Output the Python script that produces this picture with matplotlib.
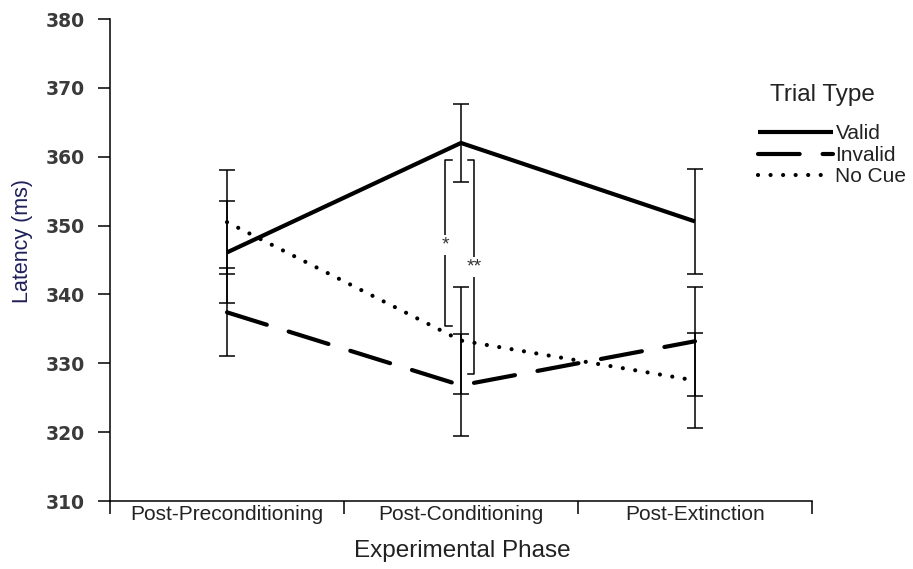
import matplotlib
matplotlib.use("Agg")
import matplotlib.pyplot as plt
from matplotlib.lines import Line2D

phases = ["Post-Preconditioning", "Post-Conditioning", "Post-Extinction"]
valid = [346.1, 362.0, 350.6]
valid_err = [7.4, 5.7, 7.6]
invalid = [337.4, 326.8, 333.2]
invalid_err = [6.4, 7.4, 7.9]
no_cue = [350.5, 333.3, 327.5]
no_cue_err = [7.6, 7.8, 6.9]

y_ticks = [310, 320, 330, 340, 350, 360, 370, 380]

plt.rcParams["font.family"] = ["Liberation Sans", "DejaVu Sans"]

fig = plt.figure(figsize=(9.13, 5.69), dpi=100)
ax = fig.add_axes([110 / 913, 1 - 501 / 569, 702 / 913, 482 / 569])

xs = [i + 0.5 for i in range(len(phases))]
styles = [
    ("Valid", valid, valid_err, dict(linestyle="-", linewidth=3.0, solid_capstyle="butt")),
    ("Invalid", invalid, invalid_err, dict(linestyle=(0, (10, 5.5)), linewidth=3.0, dash_capstyle="round")),
    ("No Cue", no_cue, no_cue_err, dict(linestyle=(0, (0.01, 3.0)), linewidth=3.0, dash_capstyle="round")),
]
handles = []
for name, vals, errs, st in styles:
    ax.errorbar(xs, vals, yerr=errs, fmt="none", ecolor="black", elinewidth=1.1,
                capsize=5.5, capthick=1.1, zorder=2)
    ax.plot(xs, vals, color="black", zorder=3, **st)
    handles.append(Line2D([0], [0], color="black", **st))

# significance brackets at the conditioning phase
def bracket(x, tip, y_top, y_bot, label, y_label):
    ax.plot([tip, x, x, tip], [y_top, y_top, y_bot, y_bot], color="black",
            linewidth=1.1, zorder=4)
    ax.text(x, y_label, label, ha="center", va="center", fontsize=14,
            color="#333333",
            bbox=dict(facecolor="white", edgecolor="none", pad=0.8), zorder=5)

bracket(1.432, 1.462, 359.5, 335.4, "*", 347.2)
bracket(1.556, 1.528, 359.5, 328.4, "**", 344.0)

ax.set_xlim(0, 3)
ax.set_ylim(310, 380)
ax.set_yticks(y_ticks)
ax.set_yticklabels([str(t) for t in y_ticks], fontsize=13.5, color="#3a3a3a",
                   family="DejaVu Sans", fontweight="bold")
ax.set_xticks([0, 1, 2, 3])
ax.set_xticklabels([])
ax.set_xticks(xs, minor=True)
ax.set_xticklabels(phases, minor=True, fontsize=15, color="#222222")
ax.tick_params(axis="x", which="minor", length=0, pad=3)
ax.tick_params(axis="x", which="major", direction="out", length=9, width=1.1)
ax.tick_params(axis="y", direction="out", length=9, width=1.1, pad=9)
for side in ("top", "right"):
    ax.spines[side].set_visible(False)
for side in ("left", "bottom"):
    ax.spines[side].set_linewidth(1.1)

ax.set_ylabel("Latency (ms)", fontsize=15.5, color="#1f1f5a")
ax.yaxis.set_label_coords((22 - 110) / 702, (501 - 241) / 482)
ax.set_xlabel("Experimental Phase", fontsize=17.5, color="#222222")
ax.xaxis.set_label_coords((462 - 110) / 702, -(551 - 501) / 482)
ax.xaxis.label.set_va("center")
ax.yaxis.label.set_va("center")

# legend: title placed above the entries
fig.text(822 / 913, 1 - 95 / 569, "Trial Type", ha="center", va="center",
         fontsize=17.5, color="#222222")
leg = fig.legend(handles, [s[0] for s in styles],
                 loc="upper left", bbox_to_anchor=(750 / 913, 1 - 116 / 569),
                 frameon=False, fontsize=15,
                 handlelength=3.6, handletextpad=0.1, labelspacing=0.12,
                 borderaxespad=0)
for t in leg.get_texts():
    t.set_color("#222222")

fig.savefig("out.png", dpi=100)
